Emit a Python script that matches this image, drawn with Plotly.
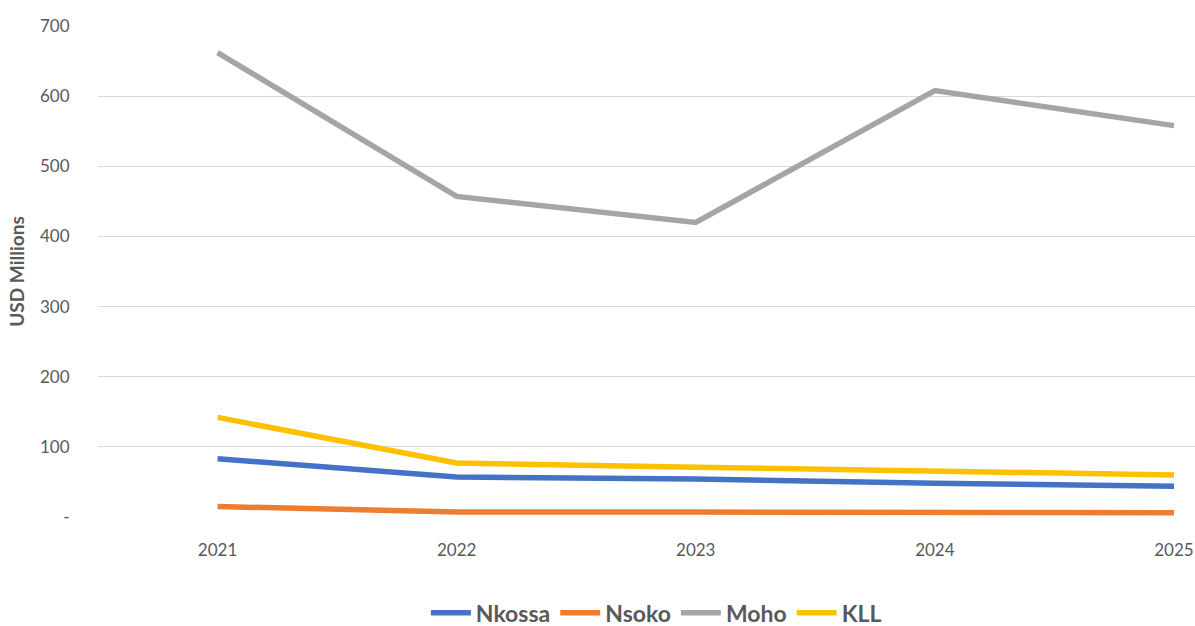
import plotly.graph_objects as go

years = ["2021", "2022", "2023", "2024", "2025"]
nkossa = [83, 57, 54, 48, 44]
nsoko = [15, 7, 7, 6, 6]
moho = [662, 457, 420, 608, 558]
kll = [142, 77, 71, 65, 60]

y_ticks = [0, 100, 200, 300, 400, 500, 600, 700]
y_tick_text = ["-", "100", "200", "300", "400", "500", "600", "700"]

series = [
    ("Nkossa", nkossa, "#4472C4"),
    ("Nsoko", nsoko, "#ED7D31"),
    ("Moho", moho, "#A5A5A5"),
    ("KLL", kll, "#FFC000"),
]

fig = go.Figure()
for name, vals, color in series:
    fig.add_trace(go.Scatter(
        x=list(range(len(years))), y=vals, name=name, mode="lines",
        line=dict(color=color, width=5.5),
    ))

text_color = "#595959"
fig.update_layout(
    width=1195, height=626,
    margin=dict(l=98, r=0, t=26, b=109),
    paper_bgcolor="white", plot_bgcolor="white",
    font=dict(family="Lato, Open Sans, sans-serif", size=17, color=text_color),
    showlegend=True,
    legend=dict(
        orientation="h", x=0.509, xanchor="center",
        yref="container", y=0.021, yanchor="middle",
        font=dict(size=23, color=text_color, weight="bold"),
        itemwidth=40, tracegroupgap=0,
    ),
    xaxis=dict(
        range=[-0.5, 4.088], automargin=False,
        tickmode="array", tickvals=list(range(len(years))), ticktext=years,
        showgrid=False, zeroline=False, showline=False,
        ticks="outside", ticklen=18, tickcolor="rgba(0,0,0,0)",
        tickfont=dict(size=17, color=text_color),
    ),
    yaxis=dict(
        range=[0, 700], automargin=False,
        tickmode="array", tickvals=y_ticks, ticktext=y_tick_text,
        showgrid=True, gridcolor="#D9D9D9", gridwidth=1,
        zeroline=False, showline=False,
        ticks="outside", ticklen=24, tickcolor="rgba(0,0,0,0)",
        tickfont=dict(size=17, color=text_color),
        title=dict(text="<b>USD Millions</b>", font=dict(size=19, color=text_color), standoff=10),
    ),
)

fig.write_html("out.html")
